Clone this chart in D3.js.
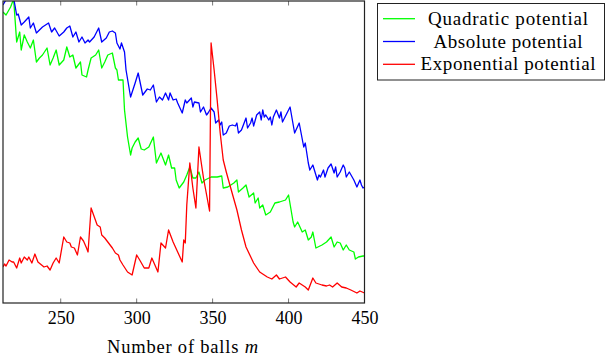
<!DOCTYPE html>
<html>
<head>
<meta charset="utf-8">
<script src="https://cdn.jsdelivr.net/npm/d3@7/dist/d3.min.js"></script>
<style>
  html, body { margin: 0; padding: 0; background: #fff; }
  svg { display: block; }
  text { font-family: "Liberation Serif", "DejaVu Serif", serif; fill: #000; }
</style>
</head>
<body>
<svg id="chart" width="606" height="356"></svg>
<script>
// Number of balls m for each series
const quadM = [212,214,217,219,221,223,224,226,228,230,232,234,236,238,241,243,245,247,249,252,254,256,258,260,263,264,267,268,270,273,275,277,279,281,284,286,287,288,291,292,294,296,297,299,301,303,305,308,311,313,316,319,321,323,325,326,328,331,333,335,337,339,341,343,345,349,353,356,357,360,364,366,367,370,372,374,377,378,380,381,383,385,388,391,394,398,400,403,404,406,409,411,413,415,416,418,422,425,428,430,432,434,436,438,440,443,444,446,449,450];
const quadVal = [291,288,296,304,261,271,253,268,261,255,263,241,245,248,255,238,245,253,238,243,256,246,248,235,241,228,226,233,245,248,253,235,241,248,250,235,233,223,223,193,166,148,155,161,165,154,153,156,166,140,150,138,148,135,135,123,115,121,128,136,125,125,131,120,123,126,126,127,115,116,120,123,111,115,118,106,110,100,105,95,98,88,91,100,101,103,108,81,76,81,71,73,63,66,71,55,58,61,66,56,61,60,53,58,53,51,44,46,47,47];

const absM = [212,215,219,221,222,224,226,229,230,232,234,236,238,242,244,246,249,252,254,256,258,260,262,264,266,268,269,272,275,277,280,282,284,286,287,289,290,292,293,296,299,301,304,307,309,311,313,315,317,319,321,322,324,326,327,330,332,333,336,337,338,341,342,344,346,347,349,351,352,354,355,356,357,359,361,363,365,366,367,369,371,372,373,375,376,377,379,381,382,383,384,385,387,388,389,390,392,394,395,396,399,401,404,407,410,411,413,414,416,417,419,420,421,423,424,426,428,430,431,432,434,436,437,438,440,443,445,447,448,449,450];
const absVal = [298,306,305,288,289,278,281,286,275,280,270,273,276,280,271,275,267,271,275,277,266,271,261,266,260,263,261,266,275,261,265,271,272,270,260,254,260,251,233,206,220,230,208,214,213,218,201,206,203,210,203,210,203,204,200,190,203,200,205,196,201,200,191,196,188,190,195,191,180,183,178,181,168,170,177,178,177,180,170,173,181,185,175,180,185,177,188,191,183,193,186,188,183,186,178,186,193,185,191,181,190,196,170,180,156,160,140,133,138,133,123,128,126,133,126,135,139,130,136,126,131,138,135,126,131,123,116,123,118,115,116];

const expM = [212,213,214,216,218,219,221,223,224,226,228,229,231,233,235,239,241,243,245,247,249,252,254,256,257,259,261,263,265,267,268,270,274,276,277,279,281,284,286,288,289,291,294,297,300,302,305,308,310,312,314,316,319,321,324,327,330,331,332,333,335,337,339,341,344,348,349,351,353,355,357,359,361,366,369,372,377,381,386,389,392,394,398,401,405,407,411,413,416,418,422,425,427,429,432,435,438,441,445,447,450];
const expVal = [36,39,37,43,41,41,35,45,40,46,43,46,40,49,41,36,37,33,40,45,40,66,61,60,56,55,48,66,62,55,51,95,78,76,68,65,61,55,50,48,43,38,31,28,48,43,35,35,45,38,31,60,55,73,61,51,41,63,60,98,140,115,95,156,125,92,260,233,203,170,143,131,120,93,73,56,40,31,26,24,28,24,26,21,16,20,16,13,25,20,18,17,18,16,20,16,15,13,10,12,10];

const seriesNames = ["Quadratic potential", "Absolute potential", "Exponential potential"];
const seriesColors = ["#00ff00", "#0000ff", "#ff0000"];
const xTicks = [250, 300, 350, 400, 450];
const xLabel = "Number of balls ";

const series = [
  { name: seriesNames[0], color: seriesColors[0], m: quadM, v: quadVal, w: 160 },
  { name: seriesNames[1], color: seriesColors[1], m: absM, v: absVal, w: 149 },
  { name: seriesNames[2], color: seriesColors[2], m: expM, v: expVal, w: 175 }
];

const svg = d3.select("#chart");
const plot = { left: 3, right: 364.5, top: 1, bottom: 303 };

const x = d3.scaleLinear().domain([212, 450]).range([plot.left, plot.right]);
const y = d3.scaleLinear().domain([0, 302]).range([plot.bottom, plot.top]);

svg.append("defs").append("clipPath").attr("id", "plotClip")
  .append("rect")
  .attr("x", plot.left).attr("y", plot.top)
  .attr("width", plot.right - plot.left).attr("height", plot.bottom - plot.top);

// data lines
const line = d3.line().x(d => x(d[0])).y(d => y(d[1]));
const lines = svg.append("g").attr("clip-path", "url(#plotClip)");
series.forEach(s => {
  const pts = s.m.map((m, i) => [m, s.v[i]]);
  lines.append("path")
    .datum(pts)
    .attr("d", line)
    .attr("fill", "none")
    .attr("stroke", s.color)
    .attr("stroke-width", 1.3)
    .attr("stroke-linejoin", "round");
});

// bottom axis labels; ticks point inward and are mirrored on the top edge
const axisBottom = d3.axisBottom(x).tickValues(xTicks).tickSize(0).tickPadding(10).tickFormat(d3.format("d"));
const gx = svg.append("g").attr("transform", `translate(0,${plot.bottom})`).call(axisBottom);
gx.select(".domain").remove();
gx.selectAll("text").attr("font-size", 18).attr("font-family", "Liberation Serif").attr("dy", "0.71em").attr("y", 8);

const tickG = svg.append("g").attr("stroke", "#555").attr("stroke-width", 0.8);
xTicks.forEach(t => {
  tickG.append("line").attr("x1", x(t)).attr("x2", x(t)).attr("y1", plot.bottom).attr("y2", plot.bottom - 4.5);
  tickG.append("line").attr("x1", x(t)).attr("x2", x(t)).attr("y1", plot.top).attr("y2", plot.top + 4.5);
});

// frame
svg.append("rect")
  .attr("x", plot.left).attr("y", plot.top)
  .attr("width", plot.right - plot.left).attr("height", plot.bottom - plot.top)
  .attr("fill", "none").attr("stroke", "#222").attr("stroke-width", 1.2);

// axis title
const title = svg.append("text")
  .attr("x", 107)
  .attr("y", 353)
  .attr("font-size", 18.5)
  .attr("textLength", 151)
  .attr("lengthAdjust", "spacing");
title.append("tspan").text(xLabel);
title.append("tspan").attr("font-style", "italic").text("m");

// legend
const leg = svg.append("g");
leg.append("rect")
  .attr("x", 377.5).attr("y", 3.5).attr("width", 227).attr("height", 76.5)
  .attr("fill", "#fff").attr("stroke", "#222").attr("stroke-width", 1);
series.forEach((s, i) => {
  const yy = 18.7 + i * 22.8;
  leg.append("line")
    .attr("x1", 383).attr("x2", 415).attr("y1", yy).attr("y2", yy)
    .attr("stroke", s.color).attr("stroke-width", 1.3);
  leg.append("text")
    .attr("x", 508 - s.w / 2).attr("y", yy + 6)
    .attr("font-size", 19)
    .attr("textLength", s.w)
    .attr("lengthAdjust", "spacing")
    .text(s.name);
});
</script>
</body>
</html>
